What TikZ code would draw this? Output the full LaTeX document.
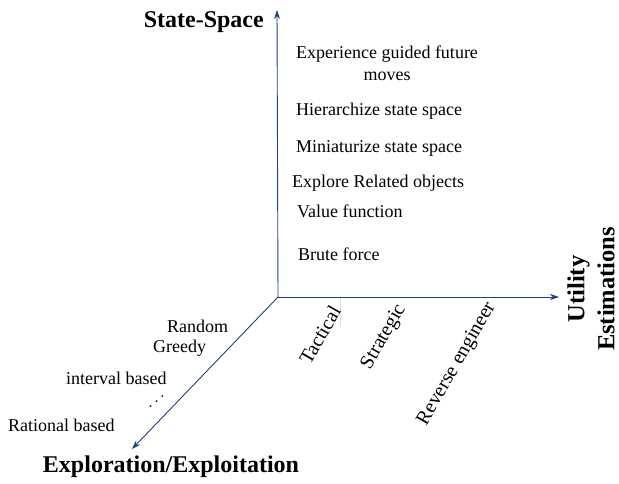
\documentclass[tikz,border=0pt]{standalone}
\usepackage{fontspec}
\setmainfont{Liberation Serif}
\usetikzlibrary{arrows.meta}
\definecolor{axisblue}{HTML}{1F3F7F}
\tikzset{
  axis/.style={draw=axisblue, line width=0.9pt, -{Stealth[length=9pt,width=6pt]}},
  lbl/.style={font=\fontsize{18}{22}\selectfont, inner sep=0pt},
  rlbl/.style={font=\fontsize{20}{22}\selectfont, inner sep=0pt, rotate=60},
  title/.style={font=\fontsize{24}{26}\selectfont\bfseries, inner sep=0pt},
}
\begin{document}
\begin{tikzpicture}[x=1pt,y=-1pt]
\useasboundingbox (0,0) rectangle (619,484);
\coordinate (o) at (278,297);
\coordinate (ytip) at (277,10);
\coordinate (xtip) at (559,297);
\coordinate (ztip) at (132,449);
\coordinate (t1) at (340,297);
\coordinate (t2) at (340,326);
\draw[gray!25, line width=0.5pt] (t1) -- (t2);
\draw[axis] (o) -- (ytip);
\draw[axis] (o) -- (xtip);
\draw[axis] (o) -- (ztip);

\node[title, anchor=east] (ss) at (264,22) {State-Space};
\node[title, anchor=north] (ee) at (171,456) {Exploration/Exploitation};
\node[rotate=90, align=center, inner sep=0pt, font=\fontsize{24.5}{30}\selectfont\bfseries] (ue) at (591,289) {Utility\\Estimations};

\node[lbl, align=center] (egf) at (387,63) {Experience guided future\\moves};
\node[lbl, anchor=west] (hss) at (296,111) {Hierarchize state space};
\node[lbl, anchor=west] (mss) at (296,148) {Miniaturize state space};
\node[lbl, anchor=west] (ero) at (292,183) {Explore Related objects};
\node[lbl, anchor=west] (vf) at (297,211) {Value function};
\node[lbl, anchor=west] (bf) at (298,254) {Brute force};

\node[rlbl] (tac) at (320,335) {Tactical};
\node[rlbl] (str) at (384,337) {Strategic};
\node[rlbl] (rev) at (457,364) {Reverse engineer};

\node[lbl, anchor=west] (rnd) at (167,326) {Random};
\node[lbl, anchor=west] (grd) at (153,348) {Greedy};
\node[lbl, anchor=west] (ivb) at (66,378) {interval based};
\node[lbl, rotate=40] (dots) at (157,402) {$\cdots$};
\node[lbl, anchor=west] (rtb) at (8,425) {Rational based};
\end{tikzpicture}
\end{document}
